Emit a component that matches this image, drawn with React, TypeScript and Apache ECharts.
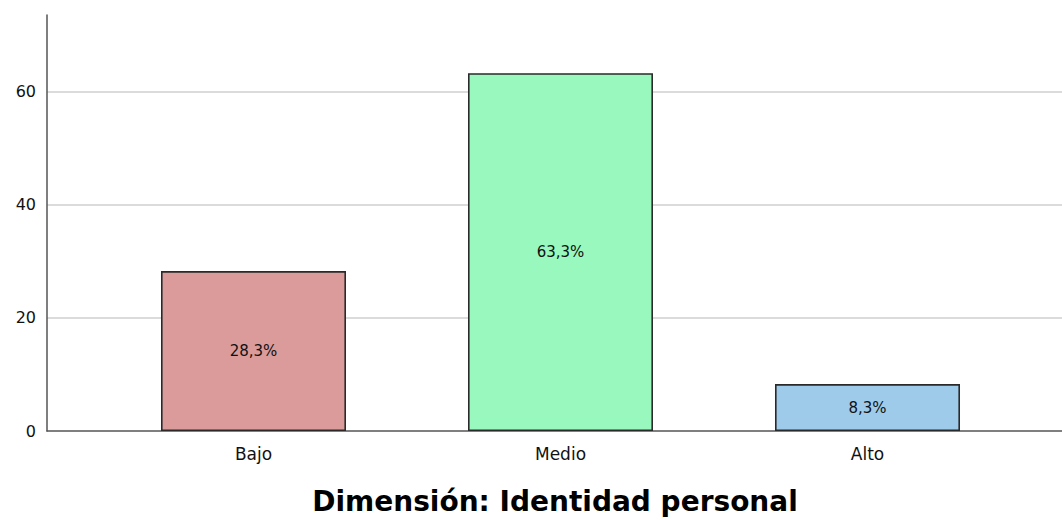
import React, { useEffect, useRef } from "react";
import * as echarts from "echarts";

const categories = ["Bajo", "Medio", "Alto"];
const values = [28.3, 63.3, 8.3];
const labels = ["28,3%", "63,3%", "8,3%"];
const colors = ["#dc9b9b", "#98f8bd", "#9ecbea"];
const yTicks = [0, 20, 40, 60];
const title = "Dimensión: Identidad personal";

export default function App() {
  const ref = useRef<HTMLDivElement>(null);
  useEffect(() => {
    if (!ref.current) return;
    const chart = echarts.init(ref.current, null, { renderer: "svg" });
    const font = "'DejaVu Sans', Arial, sans-serif";
    chart.setOption({
      animation: false,
      backgroundColor: "#ffffff",
      textStyle: { fontFamily: font },
      title: {
        text: title,
        left: 550,
        top: 482,
        textAlign: "center",
        textStyle: { fontFamily: font, fontSize: 28, fontWeight: "bold", color: "#000" },
      },
      grid: [
        { left: 47, right: 0, top: 15, bottom: 89, containLabel: false },
        { left: 100, right: 41, top: 15, bottom: 89, containLabel: false },
      ],
      xAxis: [
        {
          gridIndex: 0,
          type: "value",
          min: 0,
          max: 1,
          axisLine: { show: true, onZero: false, lineStyle: { color: "#555", width: 1.5 } },
          axisTick: { show: false },
          axisLabel: { show: false },
          splitLine: { show: false },
        },
        {
          gridIndex: 1,
          type: "category",
          data: categories,
          axisLine: { show: false },
          axisTick: { show: false },
          axisLabel: { color: "#111", fontSize: 17, margin: 14, fontFamily: font },
          splitLine: { show: false },
        },
      ],
      yAxis: [
        {
          gridIndex: 0,
          type: "value",
          min: 0,
          max: 73.6,
          interval: 20,
          axisLine: { show: true, lineStyle: { color: "#555", width: 1.5 } },
          axisTick: { show: false },
          axisLabel: {
            color: "#111",
            fontSize: 16,
            margin: 11,
            showMaxLabel: false,
            fontFamily: font,
            formatter: (v: number) => (yTicks.includes(v) ? String(v) : ""),
          },
          splitLine: {
            show: true,
            showMinLine: false,
            showMaxLine: false,
            lineStyle: { color: "#cfcfcf", width: 1.5 },
          },
        },
        {
          gridIndex: 1,
          type: "value",
          min: 0,
          max: 73.6,
          interval: 20,
          show: false,
          splitLine: { show: false },
        },
      ],
      series: [
        {
          type: "bar",
          xAxisIndex: 1,
          yAxisIndex: 1,
          barWidth: 185,
          data: values.map((v, i) => ({
            value: v,
            itemStyle: { color: colors[i], borderColor: "#2a2a2a", borderWidth: 1.6 },
            label: { formatter: labels[i] },
          })),
          label: {
            show: true,
            position: "inside",
            color: "#111",
            fontSize: 15,
            fontFamily: font,
          },
        },
      ],
    });
    return () => chart.dispose();
  }, []);
  return <div ref={ref} style={{ width: 1062, height: 520, position: "absolute", left: 0, top: 0 }} />;
}
